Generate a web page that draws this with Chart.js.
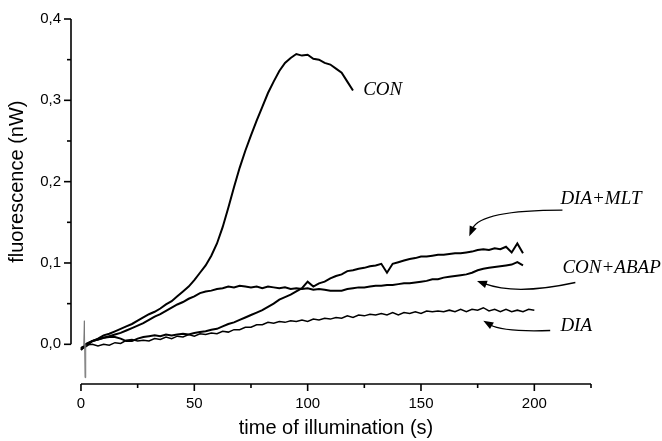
<!DOCTYPE html>
<html>
<head>
<meta charset="utf-8">
<script src="https://cdn.jsdelivr.net/npm/chart.js@4.4.1/dist/chart.umd.min.js"></script>
<style>
  html, body { margin: 0; padding: 0; background: #fff; }
  #wrap { width: 662px; height: 441px; }
</style>
</head>
<body>
<div id="wrap"><canvas id="c" width="662" height="441"></canvas></div>
<script>
// ---- data ----
const time = [0,2.5,5,7.5,10,12.5,15,17.5,20,22.5,25,27.5,30,32.5,35,37.5,40,42.5,45,47.5,
  50,52.5,55,57.5,60,62.5,65,67.5,70,72.5,75,77.5,80,82.5,85,87.5,90,92.5,95,97.5,
  100,102.5,105,107.5,110,112.5,115,117.5,120,122.5,125,127.5,130,132.5,135,137.5,140,142.5,145,147.5,
  150,152.5,155,157.5,160,162.5,165,167.5,170,172.5,175,177.5,180,182.5,185,187.5,190,192.5,195,197.5,200];

const valuesCON = [-0.006,-0.002,0.004,0.007,0.011,0.013,0.016,0.019,0.022,0.025,
  0.029,0.033,0.037,0.040,0.044,0.049,0.053,0.059,0.065,0.071,
  0.079,0.088,0.097,0.109,0.124,0.144,0.168,0.193,0.217,0.238,
  0.257,0.275,0.292,0.309,0.323,0.336,0.346,0.352,0.357,0.355,
  0.356,0.351,0.350,0.346,0.344,0.339,0.334,0.323,0.312];

const valuesCONABAP = [-0.005,0.000,0.004,0.006,0.008,0.010,0.012,0.014,0.017,0.020,
  0.023,0.026,0.030,0.034,0.037,0.041,0.045,0.049,0.052,0.056,
  0.059,0.063,0.065,0.066,0.068,0.069,0.071,0.070,0.072,0.071,
  0.070,0.071,0.069,0.071,0.070,0.069,0.070,0.068,0.069,0.068,
  0.069,0.067,0.068,0.067,0.066,0.066,0.066,0.068,0.069,0.070,
  0.070,0.071,0.072,0.072,0.073,0.073,0.074,0.075,0.075,0.076,
  0.077,0.078,0.080,0.080,0.082,0.083,0.084,0.085,0.086,0.088,
  0.091,0.093,0.094,0.095,0.096,0.097,0.098,0.101,0.097];

const valuesDIAMLT = [-0.007,0.001,0.004,0.006,0.008,0.009,0.009,0.007,0.004,0.004,
  0.007,0.009,0.010,0.011,0.010,0.012,0.011,0.012,0.013,0.012,
  0.014,0.015,0.016,0.018,0.019,0.022,0.025,0.027,0.030,0.033,
  0.036,0.039,0.042,0.046,0.050,0.055,0.058,0.061,0.065,0.069,
  0.077,0.071,0.075,0.077,0.081,0.084,0.086,0.090,0.091,0.093,
  0.094,0.096,0.097,0.099,0.088,0.099,0.101,0.103,0.105,0.106,
  0.108,0.108,0.109,0.110,0.110,0.111,0.112,0.112,0.113,0.114,
  0.116,0.117,0.116,0.118,0.117,0.120,0.113,0.124,0.112];

const valuesDIA = [-0.004,-0.001,0.000,-0.002,0.000,-0.001,0.002,0.001,0.005,0.006,
  0.004,0.005,0.004,0.007,0.006,0.009,0.007,0.010,0.009,0.012,
  0.010,0.013,0.012,0.014,0.013,0.016,0.015,0.018,0.018,0.021,
  0.021,0.024,0.024,0.027,0.026,0.028,0.027,0.029,0.028,0.030,
  0.028,0.031,0.030,0.032,0.031,0.033,0.032,0.035,0.033,0.036,
  0.035,0.037,0.036,0.038,0.036,0.039,0.036,0.039,0.038,0.040,
  0.038,0.041,0.040,0.041,0.040,0.042,0.040,0.043,0.040,0.043,
  0.042,0.045,0.041,0.043,0.040,0.043,0.040,0.042,0.040,0.043,0.042];

// short artefact spike at the start
const spikeTime = [1.2, 1.5, 1.8, 2.1];
const spikeValues = [-0.002, 0.029, -0.041, 0.000];

const xTicks = [0, 50, 100, 150, 200];
const xMinorTicks = [25, 75, 125, 175, 225];
const yTicks = [0, 0.1, 0.2, 0.3, 0.4];
const yMinorTicks = [0.05, 0.15, 0.25, 0.35];

const xTitle = 'time of illumination (s)';
const yTitle = 'fluorescence (nW)';

// labels and arrows, in data coordinates
const labels = [
  { text: 'CON',      x: 124.5, y: 0.313 },
  { text: 'DIA+MLT',  x: 211.5, y: 0.179 },
  { text: 'CON+ABAP', x: 212.4, y: 0.094 },
  { text: 'DIA',      x: 211.5, y: 0.023 }
];
const arrows = [
  { from: [212.4, 0.165], ctrl: [176.2, 0.165], to: [171.3, 0.133] },
  { from: [218.1, 0.076], ctrl: [192.0, 0.060], to: [174.7, 0.078] },
  { from: [207.0, 0.017], ctrl: [186.0, 0.015], to: [177.5, 0.029] }
];

function pairs(xs, ys) { return ys.map((v, i) => ({ x: xs[i], y: v })); }

const deco = {
  id: 'deco',
  afterDraw(chart) {
    const { ctx } = chart;
    const xs = chart.scales.x, ys = chart.scales.y;
    const px = v => xs.getPixelForValue(v);
    const py = v => ys.getPixelForValue(v);
    const left = chart.chartArea.left, bottom = chart.chartArea.bottom;
    ctx.save();
    ctx.strokeStyle = '#000';
    ctx.fillStyle = '#000';
    ctx.lineWidth = 1.6;
    ctx.lineCap = 'butt';
    // y axis
    ctx.beginPath();
    ctx.moveTo(left, py(yTicks[yTicks.length - 1]));
    ctx.lineTo(left, py(yTicks[0]));
    ctx.stroke();
    yTicks.forEach(v => { ctx.beginPath(); ctx.moveTo(left, py(v)); ctx.lineTo(left - 7, py(v)); ctx.stroke(); });
    yMinorTicks.forEach(v => { ctx.beginPath(); ctx.moveTo(left, py(v)); ctx.lineTo(left - 4, py(v)); ctx.stroke(); });
    // x axis
    ctx.beginPath();
    ctx.moveTo(px(xTicks[0]), bottom);
    ctx.lineTo(px(xMinorTicks[xMinorTicks.length - 1]), bottom);
    ctx.stroke();
    xTicks.forEach(v => { ctx.beginPath(); ctx.moveTo(px(v), bottom); ctx.lineTo(px(v), bottom + 7); ctx.stroke(); });
    xMinorTicks.forEach(v => { ctx.beginPath(); ctx.moveTo(px(v), bottom); ctx.lineTo(px(v), bottom + 4); ctx.stroke(); });

    // axis titles
    ctx.font = '20px "Liberation Sans", Arial, sans-serif';
    ctx.textAlign = 'center';
    ctx.textBaseline = 'middle';
    ctx.fillText(xTitle, (px(0) + px(225)) / 2, 428);
    ctx.save();
    ctx.translate(17, (py(0) + py(0.4)) / 2);
    ctx.rotate(-Math.PI / 2);
    ctx.fillText(yTitle, 0, 0);
    ctx.restore();

    // curve labels
    ctx.font = 'italic 19px "Liberation Serif", "Times New Roman", serif';
    ctx.textAlign = 'left';
    ctx.textBaseline = 'middle';
    labels.forEach(l => ctx.fillText(l.text, px(l.x), py(l.y)));

    // arrows
    ctx.lineWidth = 1.3;
    arrows.forEach(a => {
      const x0 = px(a.from[0]), y0 = py(a.from[1]);
      const cx = px(a.ctrl[0]), cy = py(a.ctrl[1]);
      const x1 = px(a.to[0]), y1 = py(a.to[1]);
      const ang = Math.atan2(y1 - cy, x1 - cx);
      const len = 10, hw = 3.8;
      const bx = x1 - len * Math.cos(ang), by = y1 - len * Math.sin(ang);
      ctx.beginPath();
      ctx.moveTo(x0, y0);
      ctx.quadraticCurveTo(cx, cy, bx + 2 * Math.cos(ang), by + 2 * Math.sin(ang));
      ctx.stroke();
      ctx.beginPath();
      ctx.moveTo(x1, y1);
      ctx.lineTo(bx + hw * Math.sin(ang), by - hw * Math.cos(ang));
      ctx.lineTo(bx - hw * Math.sin(ang), by + hw * Math.cos(ang));
      ctx.closePath();
      ctx.fill();
    });
    ctx.restore();
  }
};

const lineStyle = { showLine: true, pointRadius: 0, borderColor: '#000', borderWidth: 2, tension: 0, fill: false };

new Chart(document.getElementById('c'), {
  type: 'scatter',
  data: {
    datasets: [
      { label: 'spike', data: pairs(spikeTime, spikeValues), ...lineStyle, borderColor: '#777', borderWidth: 1 },
      { label: 'DIA', data: pairs(time, valuesDIA), ...lineStyle, borderWidth: 1.5 },
      { label: 'DIA+MLT', data: pairs(time, valuesDIAMLT), ...lineStyle },
      { label: 'CON+ABAP', data: pairs(time, valuesCONABAP), ...lineStyle },
      { label: 'CON', data: pairs(time, valuesCON), ...lineStyle }
    ]
  },
  options: {
    responsive: false,
    animation: false,
    devicePixelRatio: 1,
    layout: { padding: { top: 16, right: 71, left: 0, bottom: 0 } },
    plugins: { legend: { display: false }, tooltip: { enabled: false } },
    scales: {
      x: {
        type: 'linear', min: -4.4, max: 225,
        grid: { display: false, drawTicks: false },
        border: { display: false },
        afterBuildTicks: s => { s.ticks = xTicks.map(v => ({ value: v })); },
        afterFit: s => { s.height = 57; },
        ticks: { color: '#000', padding: 11, maxRotation: 0, font: { family: '"Liberation Sans", Arial, sans-serif', size: 15 } }
      },
      y: {
        type: 'linear', min: -0.0488, max: 0.4,
        grid: { display: false, drawTicks: false },
        border: { display: false },
        afterBuildTicks: s => { s.ticks = yTicks.map(v => ({ value: v })); },
        afterFit: s => { s.width = 71; },
        ticks: { color: '#000', padding: 10, font: { family: '"Liberation Sans", Arial, sans-serif', size: 15 },
                 callback: v => v.toFixed(1).replace('.', ',') }
      }
    }
  },
  plugins: [deco]
});
</script>
</body>
</html>
